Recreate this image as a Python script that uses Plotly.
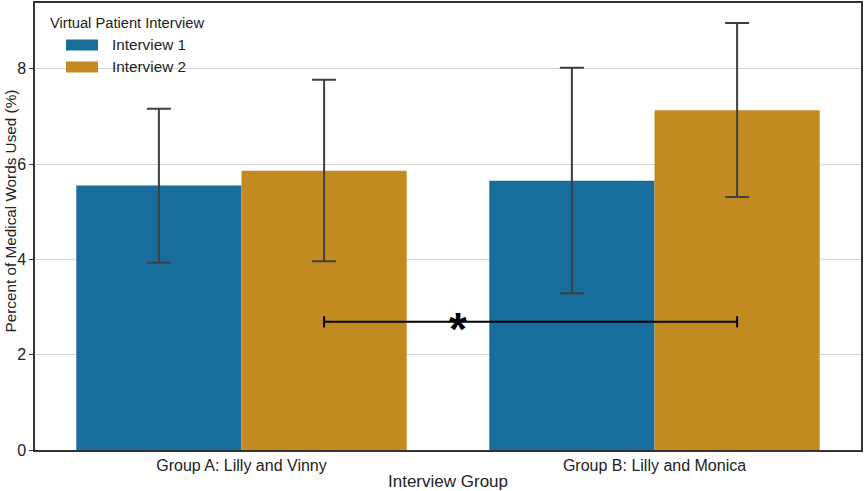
import plotly.graph_objects as go

groups = ["Group A: Lilly and Vinny", "Group B: Lilly and Monica"]
series_names = ["Interview 1", "Interview 2"]
legend_title = "Virtual Patient Interview"
y_title = "Percent of Medical Words Used (%)"
x_title = "Interview Group"
means_i1 = [5.55, 5.65]
means_i2 = [5.86, 7.13]
err_low_i1 = [3.93, 3.29]
err_high_i1 = [7.16, 8.02]
err_low_i2 = [3.96, 5.31]
err_high_i2 = [7.77, 8.96]
sig_y = 2.69
sig_from = 0.2
sig_to = 1.2
sig_star_x = 0.525

colors = ["#176d9c", "#c48a22"]
font = "Liberation Sans, Arial, sans-serif"

W, H = 865, 491
ML, MR, MT, MB = 35, 4, 3, 41
PW, PH = W - ML - MR, H - MT - MB


def px(xp):
    return (xp - ML) / PW


def py(yp):
    return 1 - (yp - MT) / PH


fig = go.Figure()
x_idx = list(range(len(groups)))
for name, means, lo, hi, col in [
    (series_names[0], means_i1, err_low_i1, err_high_i1, colors[0]),
    (series_names[1], means_i2, err_low_i2, err_high_i2, colors[1]),
]:
    fig.add_trace(go.Bar(
        x=x_idx, y=means, name=name, showlegend=False,
        marker=dict(color=col, line=dict(width=0)),
        error_y=dict(type="data", symmetric=False,
                     array=[h - m for h, m in zip(hi, means)],
                     arrayminus=[m - l for l, m in zip(lo, means)],
                     color="#3f3f3f", thickness=2, width=12),
    ))

# significance bracket
fig.add_trace(go.Scatter(
    x=[sig_from, sig_to], y=[sig_y, sig_y], mode="lines+markers",
    line=dict(color="black", width=2),
    marker=dict(symbol="line-ns", size=8, line=dict(color="black", width=2)),
    showlegend=False, hoverinfo="skip",
))
fig.add_annotation(x=sig_star_x, y=sig_y, text="<b>*</b>", showarrow=False,
                   yanchor="middle", xanchor="center",
                   font=dict(size=46, color="black", family=font), yshift=-7)

# manual legend (wide rectangular patches like the reference)
fig.add_annotation(xref="paper", yref="paper", x=px(48), y=py(23),
                   xanchor="left", yanchor="middle", showarrow=False,
                   text=legend_title, font=dict(size=14.7, color="#222", family=font))
for i, (name, col) in enumerate(zip(series_names, colors)):
    yc = 45 + 22 * i
    fig.add_shape(type="rect", xref="paper", yref="paper",
                  x0=px(66), x1=px(98), y0=py(yc - 5.5), y1=py(yc + 5.5),
                  fillcolor=col, line=dict(width=0))
    fig.add_annotation(xref="paper", yref="paper", x=px(110), y=py(yc),
                       xanchor="left", yanchor="middle", showarrow=False,
                       text=name, font=dict(size=15.3, color="#222", family=font))

# y axis title placed like the reference
fig.add_annotation(xref="paper", yref="paper", x=px(10), y=py(211.5),
                   xanchor="center", yanchor="middle", showarrow=False,
                   textangle=-90, text=y_title,
                   font=dict(size=15.3, color="#222", family=font))

fig.update_layout(
    width=W, height=H,
    margin=dict(l=ML, r=MR, t=MT, b=MB, autoexpand=False),
    paper_bgcolor="white", plot_bgcolor="white",
    barmode="group", bargap=0.2, bargroupgap=0,
    font=dict(family=font, size=14, color="#222"),
    showlegend=False,
    xaxis=dict(
        range=[-0.5, 1.5], tickmode="array", tickvals=x_idx, ticktext=groups,
        showline=True, linecolor="#333", linewidth=1.5, mirror=True,
        ticks="", showgrid=False, zeroline=False, automargin=False,
        title=dict(text=x_title, font=dict(size=17), standoff=2),
        tickfont=dict(size=16),
    ),
    yaxis=dict(
        range=[0, 9.38], tickvals=[0, 2, 4, 6, 8],
        showline=True, linecolor="#333", linewidth=1.5, mirror=True,
        ticks="outside", ticklen=4, tickcolor="#333", automargin=False,
        showgrid=True, gridcolor="#d3d3d3", gridwidth=1, zeroline=False,
        tickfont=dict(size=16),
    ),
)

fig.write_html("out.html", config={"displayModeBar": False},
               post_script="document.body.style.margin='0';")
